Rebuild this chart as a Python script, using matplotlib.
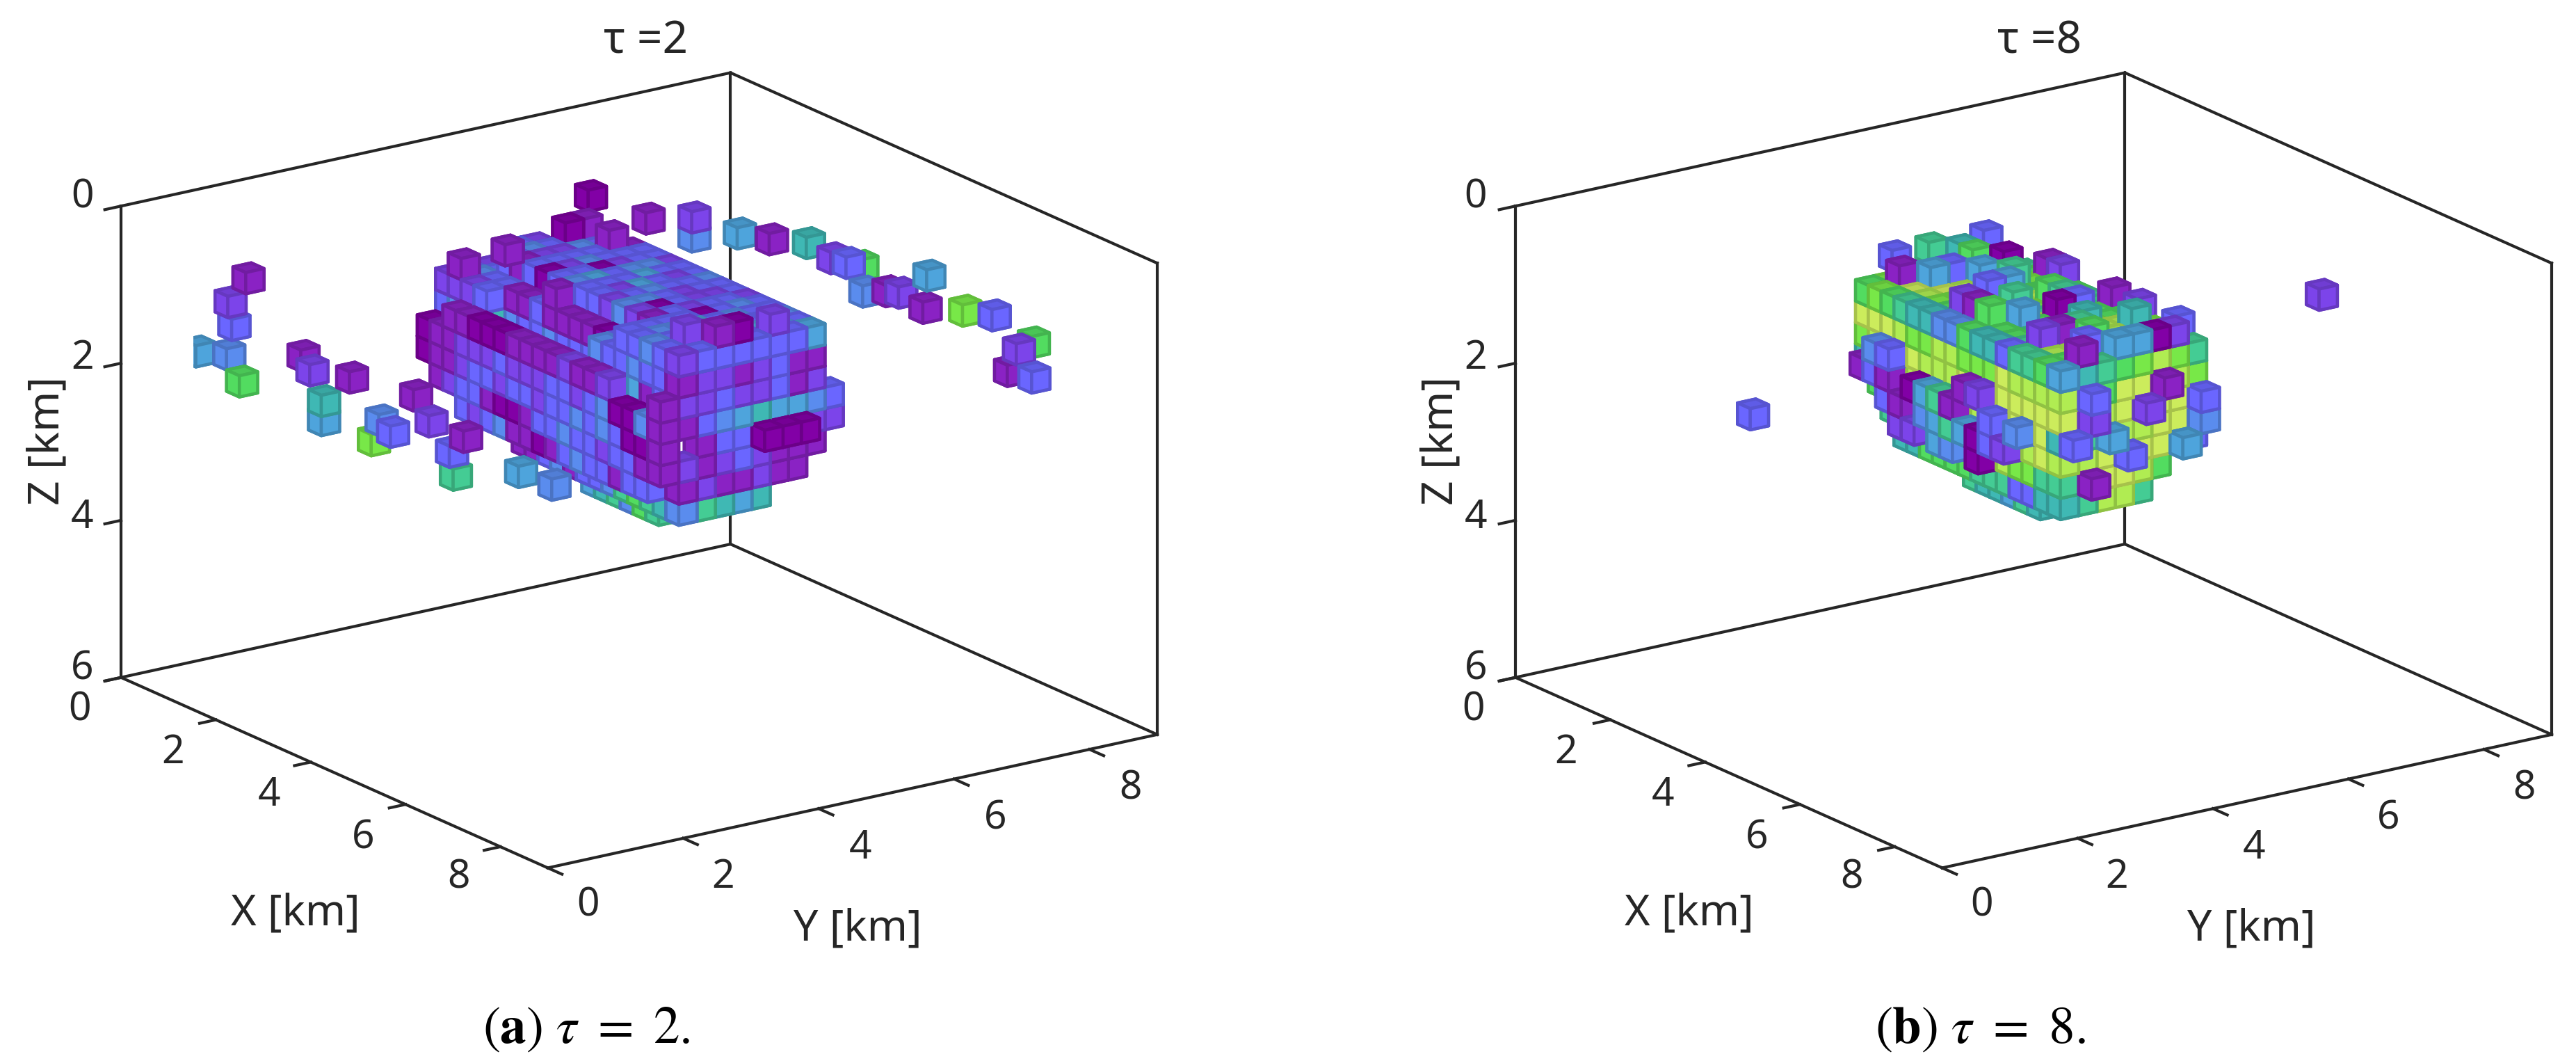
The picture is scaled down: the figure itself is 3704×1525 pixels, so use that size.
import matplotlib
matplotlib.use("Agg")
import matplotlib.pyplot as plt
from matplotlib.colors import to_rgb

plt.rcParams['font.family'] = ['Noto Sans', 'DejaVu Sans']
plt.rcParams['mathtext.fontset'] = 'stix'

# colour levels of the voxels, low to high
levels = ['#8200a6', '#8a22c4', '#7c44ea', '#6a66ff', '#5a8cee', '#4ea4dc',
          '#3fb8b4', '#44cc94', '#52dc60', '#78e848', '#b0ec52', '#ccec5c']

x_ticks = [0, 2, 4, 6, 8]
y_ticks = [0, 2, 4, 6, 8]
z_ticks = [0, 2, 4, 6]

# voxel size [km]
CELL = 0.27
Z_SHIFT = -0.23

# tau = 2, one list per depth layer, rows are y cells 12..21, chars are x cells from 6
tau2_x0 = 6
tau2_k2 = ['', '',
           "...1.............2..",
           "..................1.",
           "..................0.",
           '',
           "..0...............2.",
           "..1.1...............",
           '', '']
tau2_k3 = ['',
           ".1............33432.",
           ".......1......34333.",
           "..31303433242134333.",
           ".342323532340335433.",
           ".232340335433203433.",
           "..34332453322334353.",
           "..33233432332343343.",
           "....133233433233435.",
           '']
tau2_k4 = ['',
           "2223........4334331.",
           "34331131111034....2.",
           "23................2.",
           "3.................1.",
           "3.................2.",
           "33................3.",
           "23................1.",
           "4323..............1.",
           '']
tau2_k5 = ["..1100011112112...1.",
           "34..........4335132.",
           "..5643343334......2.",
           "..................3.",
           "..................2.",
           "..................2.",
           "..................3.",
           "..................1.",
           "..................2.",
           '']
tau2_k6 = ["0112223222332340041.",
           "..5645456545......1.",
           "..................3.",
           "..................4.",
           "..................5.",
           "..................6.",
           "..................5.",
           "..................5.",
           "..................4.",
           "..................3."]
tau2_k7 = ["0112332332334343001.",
           '',
           "..................1.",
           "..................3.",
           "..................3.",
           "..................30",
           "..................30",
           "..................30",
           "..................2.",
           "..................2."]
tau2_k8 = [".123310013343323311.",
           "..................2.",
           "..................1.",
           "..................2.",
           "..................3.",
           "..................2.",
           "..................1.",
           "..................1.",
           "..................1.",
           '']
tau2_k9 = ["...323411013433133..",
           "..................1.",
           "..................2.",
           "..................1.",
           "..................1.",
           "..................2.",
           "..................1.",
           "..................1.",
           '', '']
tau2_k10 = ['',
            "......1134133478764.",
            "..................7.",
            "..................6.",
            "..................5.",
            "..................6.",
            '', '', '', '']
tau2_k11 = ['', '',
            "..........567487....",
            '', '', '', '', '', '', '']
tau2_layers = {2: tau2_k2, 3: tau2_k3, 4: tau2_k4, 5: tau2_k5, 6: tau2_k6, 7: tau2_k7,
               8: tau2_k8, 9: tau2_k9, 10: tau2_k10, 11: tau2_k11}

# isolated voxels for tau = 2, centres in cell units
tau2_out_i = [1.0, 2.65, 1.95, 1.95, 5.5, 8.0, 10.9, 12.2, 12.8, 14.0, 15.3, 17.1, 18.1, 20.3, 20.0,
              23.1, 25.4, 25.6, 27.3, 26.6, 28.5, 32.7,
              7.1, 5.7, 6.0, 3.2, 5.6, 11.4, 12.1, 15.2, 6.6, 13.0, 13.0, 20.2, 17.5, 18.4, 21.4,
              16.9, 24.1, 23.0, 23.3, 28.4, 31.0]
tau2_out_j = [25, 27, 30, 30, 30, 30, 30, 32, 30, 30, 30, 30, 30, 30, 30,
              30, 30, 32, 30, 30, 30, 30,
              2, 2, 2, 2, 2, 2, 2, 2, 2, 2, 2, 2, 2, 2, 2,
              2, 2, 2, 2, 2, 2]
tau2_out_k = [4.2, 5.2, 5.9, 6.8, 5.7, 5.3, 4.7, 5.8, 4.9, 4.8, 5.8, 5.3, 5.1, 3.7, 5.3,
              4.6, 4.2, 5.8, 5.3, 6.5, 6.3, 4.2,
              2.1, 3.6, 4.6, 6.6, 6.1, 4.6, 5.1, 4.6, 7.1, 6.3, 7.2, 4.1, 6.0, 6.3, 5.0,
              7.1, 5.0, 6.0, 7.0, 5.5, 5.4]
tau2_out_v = [0, 1, 2, 4, 5, 1, 6, 8, 2, 3, 4, 1, 2, 5, 1,
              9, 3, 8, 2, 1, 3, 5,
              1, 2, 3, 5, 4, 1, 2, 1, 8, 6, 5, 1, 4, 3, 2,
              9, 1, 3, 7, 5, 4]

# tau = 8, rows are y cells 12..21, chars are x cells from 7
tau8_x0 = 7
tau8_k3 = ['', '',
           "..1....218...2..1.",
           "3..5......5..1.3..",
           "...3..3.7....78.5.",
           "7...5.5...0.6...5.",
           ".68..7..873.....0.",
           "...0.........6..2.",
           "3....12...1.2..3..",
           '']
tau8_k4 = ['',
           ".8987664486637785.",
           ".99BA9889A8879A86.",
           ".89AB98A9887A9A97.",
           ".79AA8B99A87998A8.",
           ".78A9A8A97889AA89.",
           ".879988A8769AAB9A.",
           "..78998A8788AAB89.",
           "...789A8777889967.",
           '']
tau8_k5 = ['',
           ".BBBA99AA999BAAAA.",
           "................83",
           "................8.",
           "................B.",
           "................B.",
           "................B1",
           "................A.",
           "................9.",
           '']
tau8_k6 = ["...43.....12......",
           ".9ABBBAAABABBBBBB.",
           "................B2",
           "................A.",
           "................B.",
           "................B2",
           "................B.",
           "................B.",
           "................73",
           '']
tau8_k7 = ["..131.0571..3.4...",
           ".6667A99A9AABBBB63",
           "................7.",
           "................45",
           "................A.",
           "................A.",
           "................B.",
           "................B.",
           "................44",
           '']
tau8_k8 = ["....31.4575032....",
           "..8778766599AAABA.",
           "................A.",
           "................B.",
           "................B3",
           "................B.",
           "................B.",
           "................A5",
           "................3.",
           '']
tau8_k9 = [".....22.54.0......",
           "...788AA999AA9977.",
           "................A1",
           "................B.",
           "................B.",
           "................A.",
           "................8.",
           '', '', '']
tau8_k10 = ['',
            "....6688887773366.",
            "................7.",
            "................A.",
            "................A.",
            "................7.",
            '', '', '', '']
tau8_k11 = ['', '',
            "........766576....",
            '', '', '', '', '', '', '']
tau8_layers = {3: tau8_k3, 4: tau8_k4, 5: tau8_k5, 6: tau8_k6, 7: tau8_k7,
               8: tau8_k8, 9: tau8_k9, 10: tau8_k10, 11: tau8_k11}

tau8_out_i = [23.0, 15.7]
tau8_out_j = [28, 2]
tau8_out_k = [3.5, 6.2]
tau8_out_v = [2, 3]

W, H = 3705, 1525
SX = 1568.0
SY = 645.4
INK = '#262626'
FS = 41


def add_cube(ax, i, j, k, v):
    side = to_rgb(levels[v])
    top = tuple(c * 0.9 for c in side)
    edge = tuple(c * 0.82 for c in side)
    # faces are -z, +z, -y, +y, -x, +x, and z points down here
    ax.bar3d(i * CELL, j * CELL, (k + Z_SHIFT) * CELL, CELL, CELL, CELL,
             color=[top, side, side, side, side, side],
             edgecolor=edge, linewidth=3.2, shade=False)


def make_panel(cx, cy, layers, x0, out_i, out_j, out_k, out_v):
    # axes is a square, the box centre sits at 0.95/1.85 of it
    size = 1249.0
    left = (cx - 0.95 / 1.85 * size) / W
    bottom = (H - cy - 0.95 / 1.85 * size) / H
    ax = fig.add_axes([left, bottom, size / W, size / H], projection='3d', proj_type='ortho')
    ax.view_init(elev=18.2, azim=-35)
    ax.set_box_aspect((9, 9, 6), zoom=1.3)
    ax.set_axis_off()

    for k, rows in layers.items():
        for row, text in enumerate(rows):
            for col, ch in enumerate(text):
                if ch != '.':
                    add_cube(ax, x0 + col, 12 + row, k, int(ch, 16))
    for i, j, k, v in zip(out_i, out_j, out_k, out_v):
        add_cube(ax, i - 0.5, j - 0.5, k - 0.5, v)

    # box, back planes and the bottom
    edges = [((0, 0, 0), (0, 0, 6)), ((0, 0, 0), (0, 9, 0)), ((0, 9, 0), (9, 9, 0)),
             ((9, 9, 0), (9, 9, 6)), ((0, 9, 0), (0, 9, 6)), ((0, 0, 6), (0, 9, 6)),
             ((0, 9, 6), (9, 9, 6)), ((0, 0, 6), (9, 0, 6)), ((9, 0, 6), (9, 9, 6))]
    for a, b in edges:
        ax.plot([a[0], b[0]], [a[1], b[1]], [a[2], b[2]], color=INK, lw=3.0, clip_on=False)
    for t in x_ticks:
        ax.plot([t, t], [0, -0.24], [6, 6], color=INK, lw=3.0, clip_on=False)
    for t in y_ticks:
        ax.plot([9, 9.3], [t, t], [6, 6], color=INK, lw=3.0, clip_on=False)
    for t in z_ticks:
        ax.plot([0, 0], [0, -0.24], [t, t], color=INK, lw=3.0, clip_on=False)

    ax.set_xlim(0, 9)
    ax.set_ylim(0, 9)
    ax.set_zlim(6, 0)
    return ax


def put(sx, sy, s, **kw):
    kw.setdefault('ha', 'center')
    kw.setdefault('va', 'center')
    kw.setdefault('fontsize', FS)
    kw.setdefault('color', INK)
    fig.text(sx / SX, 1 - sy / SY, s, **kw)


fig = plt.figure(figsize=(37.05, 15.25), dpi=100, facecolor='white')
make_panel(919, 676, tau2_layers, tau2_x0, tau2_out_i, tau2_out_j, tau2_out_k, tau2_out_v)
make_panel(2924, 676, tau8_layers, tau8_x0, tau8_out_i, tau8_out_j, tau8_out_k, tau8_out_v)

panels = [(0, "τ =2", r"$(\mathbf{a})\ \tau\ =\ 2.$"),
          (848, "τ =8", r"$(\mathbf{b})\ \tau\ =\ 8.$")]
for off, title, cap in panels:
    put(393 + off, 25, title, fontsize=46)
    put(357 + off, 626, cap, fontsize=54, color='black')
    for t, sy in zip(z_ticks, [120, 218, 315, 407]):
        put(50 + off, sy, str(t))
    for t, sx, sy in zip(x_ticks, [48.6, 105, 164, 221, 279], [432, 458, 484, 510, 534]):
        put(sx + off, sy, str(t))
    for t, sx, sy in zip(y_ticks, [358, 440, 523.6, 605.5, 688], [551, 534, 516, 498, 480]):
        put(sx + off, sy, str(t))
    put(180 + off, 556, "X [km]", fontsize=45)
    put(522 + off, 565, "Y [km]", fontsize=45)
    put(29 + off, 268, "Z [km]", fontsize=45, rotation=90)

fig.savefig("out.png", dpi=100)
plt.close(fig)
